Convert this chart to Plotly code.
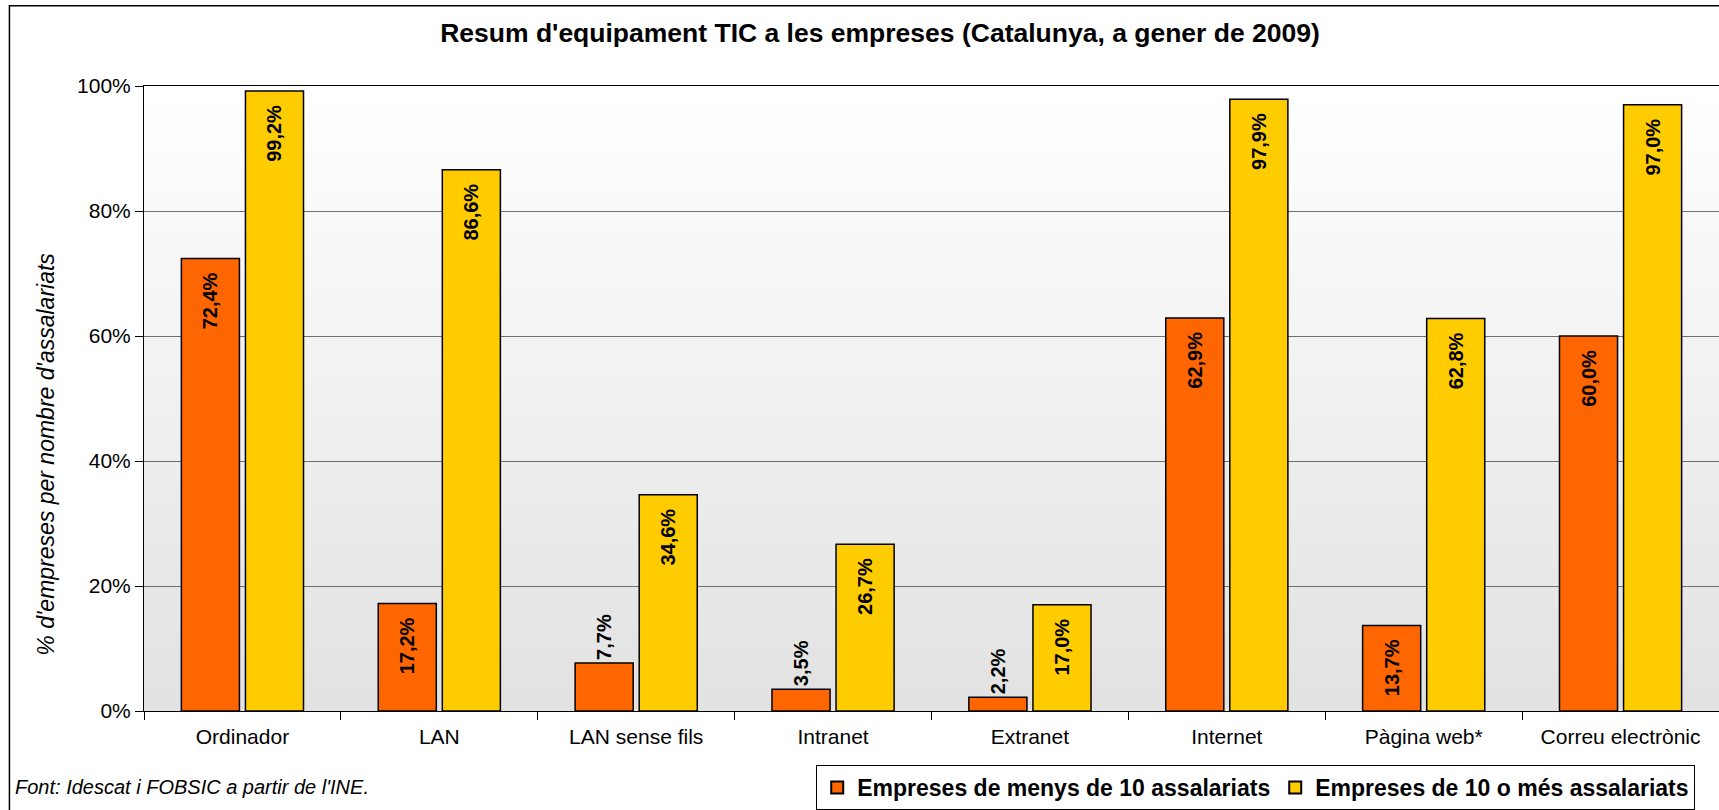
import plotly.graph_objects as go

categories = ["Ordinador", "LAN", "LAN sense fils", "Intranet", "Extranet",
              "Internet", "Pàgina web*", "Correu electrònic"]
menys_10 = [72.4, 17.2, 7.7, 3.5, 2.2, 62.9, 13.7, 60.0]
mes_10 = [99.2, 86.6, 34.6, 26.7, 17.0, 97.9, 62.8, 97.0]
menys_10_textpos = ["inside", "inside", "outside", "outside", "outside",
                    "inside", "inside", "inside"]
mes_10_textpos = ["inside"] * 8
series_names = ["Empreses de menys de 10 assalariats", "Empreses de 10 o més assalariats"]
title_text = "Resum d'equipament TIC a les empreses (Catalunya, a gener de 2009)"
y_title = "% d'empreses per nombre d'assalariats"
source_text = "Font: Idescat i FOBSIC a partir de l'INE."

FONT = "Liberation Sans, Arial, sans-serif"
W, H = 1719, 810
L, T, B, R = 143.6, 85.5, 97.4, 0
plot_w = W - L - R
plot_h = H - T - B
plot_bottom = T + plot_h


def px_x(px):
    return (px - L) / plot_w


def px_y(py):
    return (plot_bottom - py) / plot_h


NBSP = "\u00a0"
fig = go.Figure()
for vals, name, col, tpos in [(menys_10, series_names[0], "#FF6600", menys_10_textpos),
                              (mes_10, series_names[1], "#FFCC00", mes_10_textpos)]:
    texts = [f"{v:.1f}".replace(".", ",") + "%" + (NBSP * 2 if p == "inside" else "")
             for v, p in zip(vals, tpos)]
    fig.add_trace(go.Bar(
        x=categories, y=vals, name=name,
        marker=dict(color=col, line=dict(color="#000000", width=1.5)),
        text=texts, texttemplate="%{text}", textposition=tpos, textangle=-90,
        insidetextanchor="end", constraintext="none", cliponaxis=False,
        insidetextfont=dict(family=FONT, size=20, color="#000000", weight="bold"),
        outsidetextfont=dict(family=FONT, size=20, color="#000000", weight="bold"),
        hoverinfo="skip",
    ))

# gradient background (white at top -> light grey at bottom)
n = 60
shapes = []
for i in range(n):
    f = i / (n - 1)
    c = int(round(255 - (255 - 226) * (1 - f)))
    shapes.append(dict(type="rect", xref="paper", yref="paper",
                       x0=0, x1=1, y0=i / n, y1=(i + 1) / n + 0.002,
                       fillcolor=f"rgb({c},{c},{c})", line=dict(width=0),
                       layer="below"))
# outer chart border
shapes.append(dict(type="rect", xref="paper", yref="paper",
                   x0=px_x(9), x1=px_x(W + 20),
                   y0=px_y(H + 20), y1=px_y(5),
                   line=dict(color="#000000", width=1.5), fillcolor="rgba(0,0,0,0)",
                   layer="below"))

fig.update_layout(
    width=W, height=H,
    margin=dict(l=L, r=R, t=T, b=B, pad=0),
    paper_bgcolor="#ffffff", plot_bgcolor="rgba(0,0,0,0)",
    separators=",.",
    barmode="group", bargap=0.349, bargroupgap=0.094,
    font=dict(family=FONT, color="#000000"),
    title=dict(text="<b>" + title_text + "</b>", x=880 / W, xanchor="center",
               y=1 - 33 / H, yanchor="middle",
               font=dict(family=FONT, size=26.5, color="#000000")),
    xaxis=dict(showline=True, linecolor="#000000", linewidth=1, mirror=True,
               ticks="outside", ticklen=8, tickcolor="#000000", tickson="boundaries",
               ticklabelstandoff=7,
               tickfont=dict(family=FONT, size=21, color="#000000"),
               showgrid=False, fixedrange=True),
    yaxis=dict(range=[0, 100], dtick=20, ticksuffix="%",
               showline=True, linecolor="#000000", linewidth=1,
               ticks="outside", ticklen=8, tickcolor="#000000",
               tickfont=dict(family=FONT, size=21, color="#000000"),
               showgrid=True, gridcolor="#6e6e6e", gridwidth=1,
               zeroline=False, fixedrange=True),
    legend=dict(orientation="h", x=px_x(816), xanchor="left",
                y=px_y(767), yanchor="top",
                bgcolor="#ffffff", bordercolor="#000000", borderwidth=1,
                font=dict(family=FONT, size=23, color="#000000", weight="bold"),
                traceorder="normal", itemsizing="constant"),
    shapes=shapes,
    annotations=[
        dict(text=y_title, xref="paper", yref="paper",
             x=px_x(46), y=px_y(455),
             xanchor="center", yanchor="middle", textangle=-90, showarrow=False,
             font=dict(family=FONT, size=23, color="#000000", style="italic")),
        dict(text=source_text, xref="paper", yref="paper",
             x=px_x(13), y=px_y(789),
             xanchor="left", yanchor="middle", showarrow=False,
             font=dict(family=FONT, size=20, color="#000000", style="italic")),
    ],
)

fig.write_html("out.html", config={"displayModeBar": False},
               post_script="document.body.style.margin='0px';document.body.style.padding='0px';")
